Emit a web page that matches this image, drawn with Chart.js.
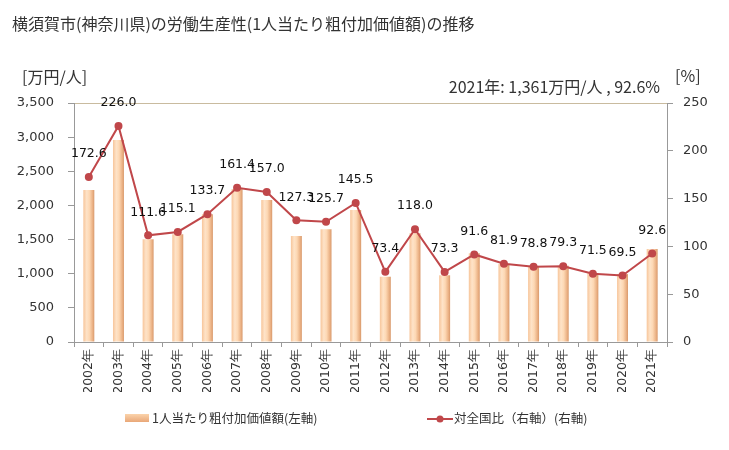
<!DOCTYPE html>
<html><head><meta charset="utf-8">
<script src="https://cdn.jsdelivr.net/npm/chart.js@4/dist/chart.umd.min.js"></script>
<style>html,body{margin:0;padding:0;background:#fff}#wrap{width:729px;height:450px}</style>
</head><body><div id="wrap"><canvas id="c" width="729" height="450"></canvas></div>
<script>
const categories = ['2002年','2003年','2004年','2005年','2006年','2007年','2008年','2009年','2010年','2011年','2012年','2013年','2014年','2015年','2016年','2017年','2018年','2019年','2020年','2021年'];
const valuePerPerson = [2226,2958,1504,1577,1870,2241,2079,1552,1650,1933,956,1592,977,1299,1142,1113,1117,1006,995,1361];
const ratioNational = [172.6,226.0,111.6,115.1,133.7,161.4,157.0,127.3,125.7,145.5,73.4,118.0,73.3,91.6,81.9,78.8,79.3,71.5,69.5,92.6];
const leftTicks = [0,500,1000,1500,2000,2500,3000,3500];
const rightTicks = [0,50,100,150,200,250];
const titleText = '横須賀市(神奈川県)の労働生産性(1人当たり粗付加価値額)の推移';
const leftUnit = '[万円/人]';
const rightUnit = '[%]';
const noteText = '2021年: 1,361万円/人 , 92.6%';
const legendBar = '1人当たり粗付加価値額(左軸)';
const legendLine = '対全国比（右軸）(右軸)';

const TXT = '#333';
const LINE = '#c0474a';
const FONT = 'DejaVu Sans';
const JP = '"Noto Sans CJK JP"';
const BARP = 0.37;

function barGradient(ctx){
  const chart = ctx.chart;
  const xs = chart.scales.x;
  if(!xs || !chart.chartArea) return '#fbd0a8';
  const cx = xs.getPixelForValue(ctx.dataIndex);
  const w = (chart.chartArea.right - chart.chartArea.left)/categories.length*BARP;
  const g = chart.ctx.createLinearGradient(cx - w/2, 0, cx + w/2, 0);
  g.addColorStop(0, '#f7c59a');
  g.addColorStop(0.3, '#fee3c8');
  g.addColorStop(0.55, '#fdd8b4');
  g.addColorStop(0.85, '#eab083');
  g.addColorStop(1, '#d8996c');
  return g;
}

const deco = {
  id:'deco',
  afterDatasetsDraw(chart){
    const c = chart.ctx;
    const meta = chart.getDatasetMeta(1);
    c.save();
    c.fillStyle = '#111';
    c.font = '12.5px ' + FONT;
    c.textAlign = 'center';
    c.textBaseline = 'middle';
    meta.data.forEach((p,i)=>{
      c.fillText(ratioNational[i].toFixed(1), p.x, p.y - 23);
    });
    c.restore();
  },
  afterDraw(chart){
    const c = chart.ctx;
    c.save();
    c.fillStyle = TXT;
    c.textBaseline = 'middle';
    c.textAlign = 'left';
    c.font = '16px ' + JP;
    c.fillText(titleText, 12, 24);
    c.font = '16px ' + JP;
    c.fillText(leftUnit, 22, 77);
    c.fillText(rightUnit, 675, 76);
    c.textAlign = 'right';
    c.fillText(noteText, 660, 87);
    // legend
    c.textAlign = 'left';
    c.font = '12.5px ' + JP;
    const g = c.createLinearGradient(0, 414, 0, 422);
    g.addColorStop(0,'#fbd3ab'); g.addColorStop(1,'#e9a778');
    c.fillStyle = g;
    c.fillRect(125, 414, 24, 8);
    c.fillStyle = TXT;
    c.fillText(legendBar, 152, 418);
    c.strokeStyle = LINE; c.lineWidth = 2;
    c.beginPath(); c.moveTo(427, 419); c.lineTo(453, 419); c.stroke();
    c.fillStyle = LINE;
    c.beginPath(); c.arc(440, 419, 3.5, 0, Math.PI*2); c.fill();
    c.fillStyle = TXT;
    c.fillText(legendLine, 454, 418);
    c.restore();
  }
};

new Chart(document.getElementById('c'), {
  type:'bar',
  data:{
    labels: categories,
    datasets:[
      {type:'bar', label:legendBar, data:valuePerPerson, yAxisID:'y', order:1,
       backgroundColor:barGradient, borderWidth:0, barPercentage:BARP, categoryPercentage:1},
      {type:'line', label:legendLine, data:ratioNational, yAxisID:'y1', order:0,
       borderColor:LINE, backgroundColor:LINE, borderWidth:2, pointRadius:4, pointBackgroundColor:LINE,
       pointBorderWidth:0, tension:0}
    ]
  },
  options:{
    responsive:false, animation:false,
    layout:{padding:{top:103, bottom:58, left:0, right:0}},
    plugins:{legend:{display:false}, title:{display:false}, tooltip:{enabled:false}},
    scales:{
      x:{
        grid:{offset:true, drawOnChartArea:false, tickLength:5, color:'#999'},
        border:{color:'#999'},
        ticks:{color:TXT, font:{family:FONT, size:12.5}, minRotation:90, maxRotation:90, padding:2},
        afterFit(s){ s.height = 50; }
      },
      y:{
        position:'left', min:0, max:3500,
        afterBuildTicks(s){ s.ticks = leftTicks.map(v=>({value:v})); },
        grid:{tickLength:6, color:(ctx)=> ctx.tick && ctx.tick.value===3500 ? '#c9bb9f' : 'rgba(0,0,0,0)', tickColor:'#999'},
        border:{color:'#999'},
        ticks:{color:TXT, font:{family:FONT, size:13}, padding:14, callback:(v)=>v.toLocaleString('en-US')},
        afterFit(s){ s.width = 74; }
      },
      y1:{
        position:'right', min:0, max:250,
        afterBuildTicks(s){ s.ticks = rightTicks.map(v=>({value:v})); },
        grid:{drawOnChartArea:false, tickLength:6, color:'#999'},
        border:{color:'#999'},
        ticks:{color:TXT, font:{family:FONT, size:13}, padding:10},
        afterFit(s){ s.width = 62; }
      }
    }
  },
  plugins:[deco]
});
</script></body></html>
